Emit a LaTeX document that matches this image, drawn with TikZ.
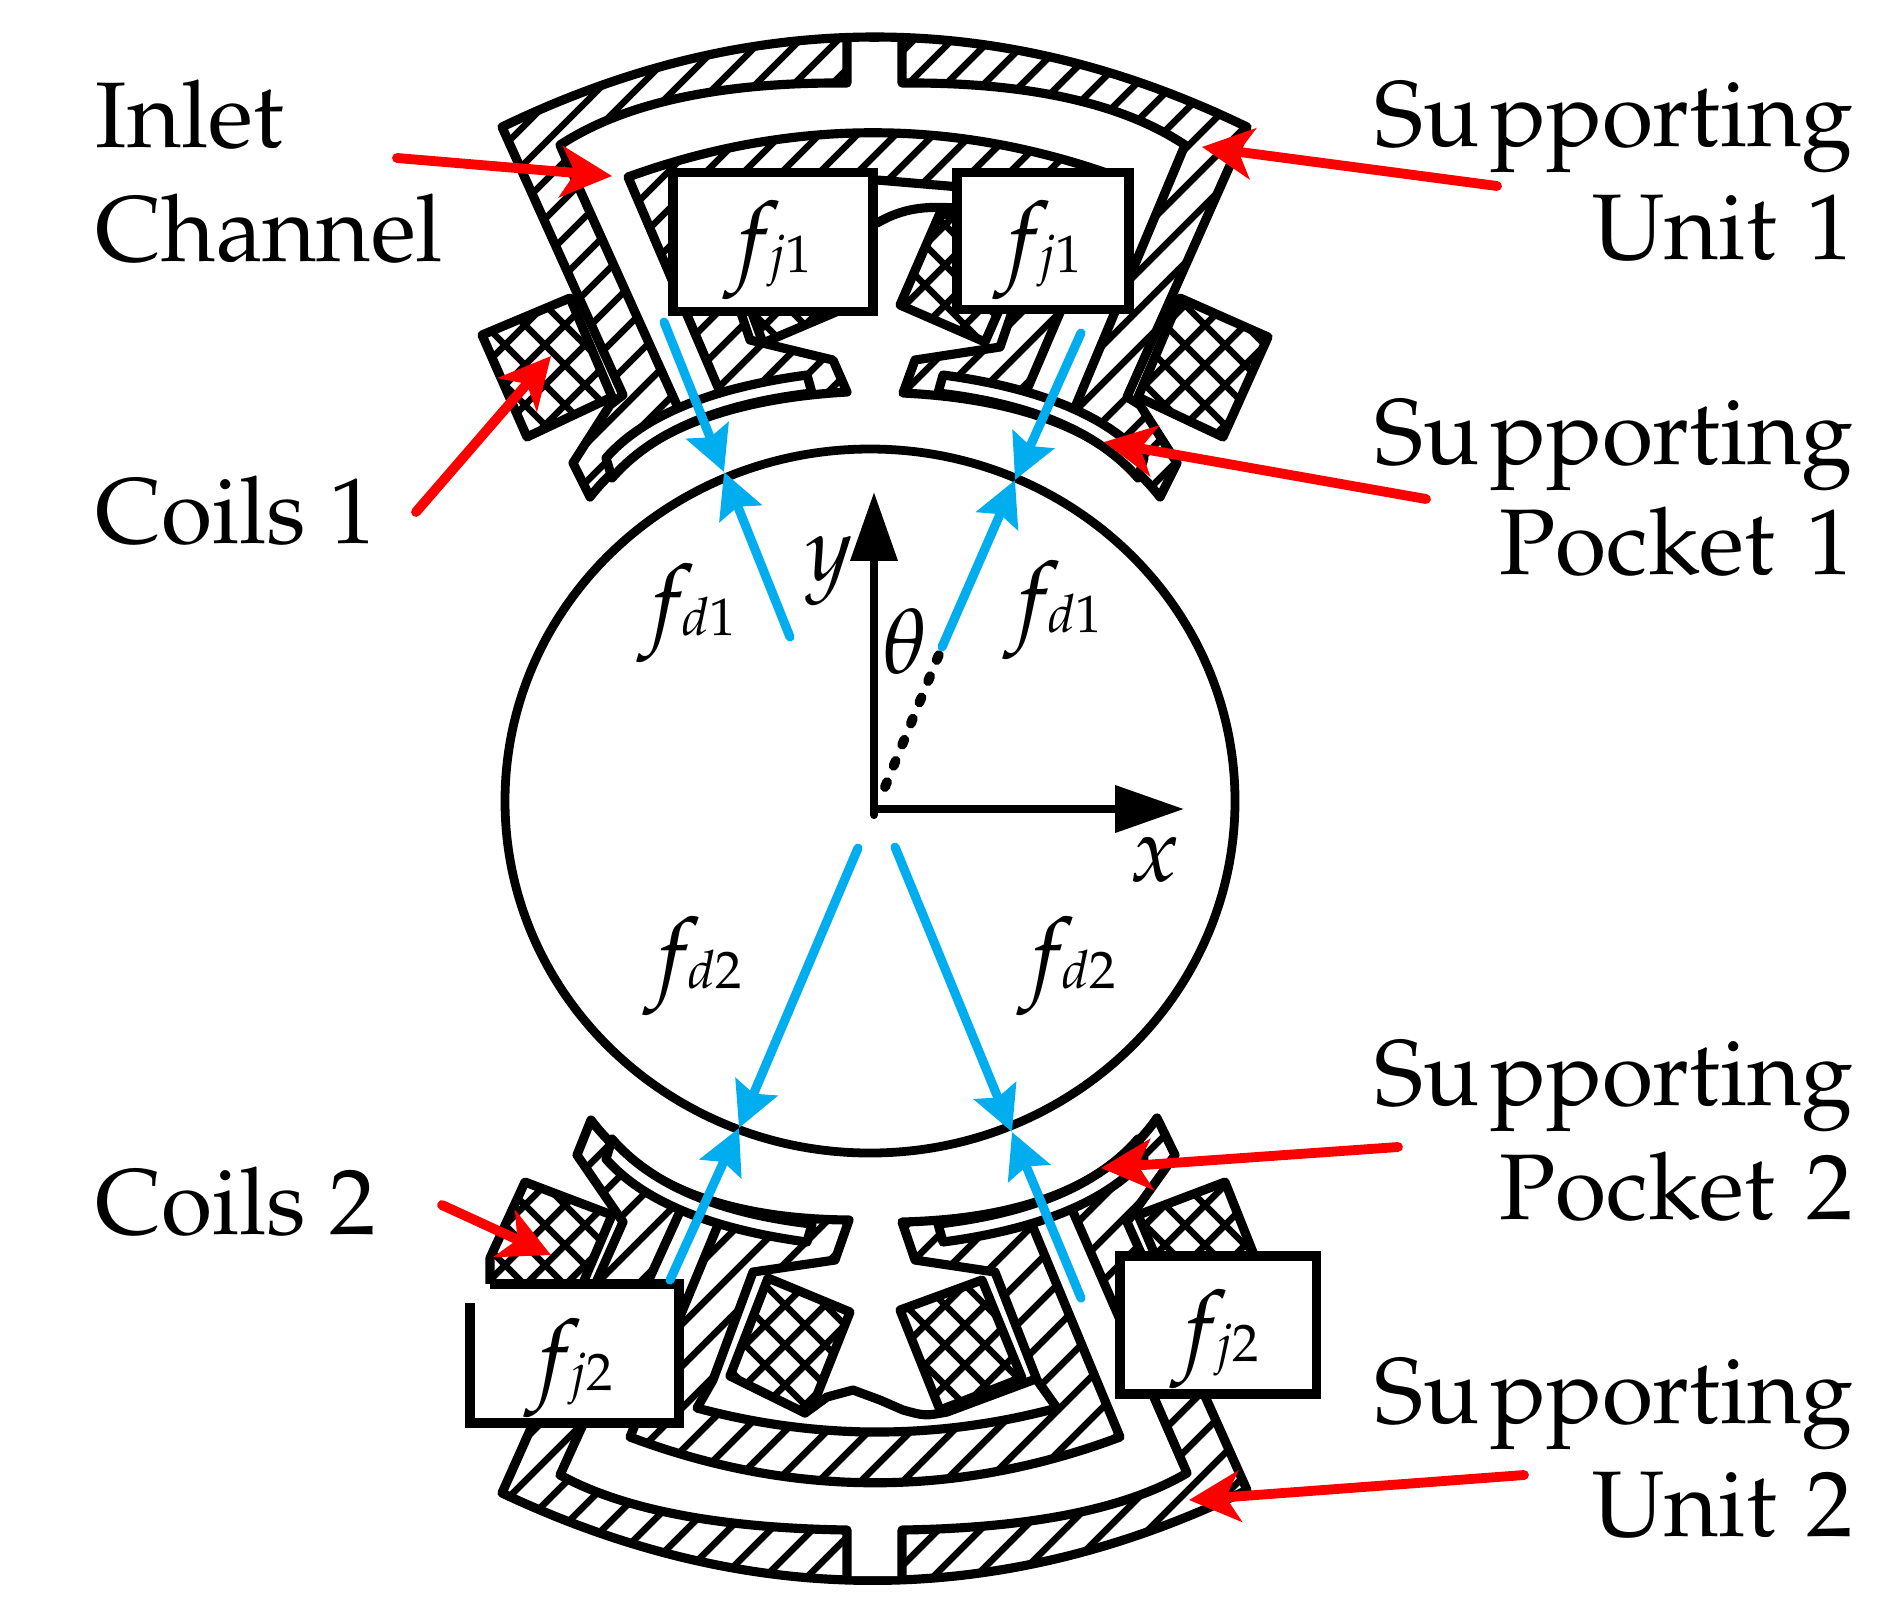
\documentclass[tikz,border=0pt]{standalone}
\usepackage[T1]{fontenc}
\usepackage{mathpazo}
\usepackage{amssymb,latexsym}
\usepackage{tikz}
\usetikzlibrary{arrows.meta}

\DeclareMathSizes{28}{28}{15}{11}

\definecolor{arrowred}{RGB}{255,0,0}
\definecolor{forceblue}{RGB}{0,174,239}

\tikzset{
  outline/.style={line width=2.6pt, line join=round, line cap=round},
  hatchline/.style={line width=1.9pt},
  redarrow/.style={draw=arrowred, line width=2.8pt, line cap=round, -{Stealth[length=14.5pt,width=14.5pt,inset=4pt]}},
  bluearrow/.style={draw=forceblue, line width=2.6pt, line cap=round, -{Stealth[length=12.6pt,width=12.7pt,inset=2pt]}},
  axisarrow/.style={line width=2.3pt, line cap=round, -{Triangle[length=19.6pt,width=13pt]}},
  forcebox/.style={draw, fill=white, line width=2.6pt, inner sep=0pt},
  textlabel/.style={font=\fontsize{26.5}{31.3}\selectfont, inner sep=0pt},
  flabel/.style={font=\fontsize{28}{32}\selectfont, inner sep=0pt},
  axislabel/.style={font=\fontsize{26}{30}\selectfont, inner sep=0pt}
}

\newcommand{\fforce}[1]{$f\kern-3.5pt{\scriptstyle #1}$}
\newcommand{\hatchtop}[1]{
  \begin{scope}
    \clip #1;
    \foreach \k in {-12,...,18} \draw[hatchline] ({992+38*\k},0) -- (0,{992+38*\k});
  \end{scope}
  \draw[outline] #1;
}
\newcommand{\hatchbottom}[1]{
  \begin{scope}
    \clip #1;
    \foreach \k in {-25,...,10} \draw[hatchline] ({2468+42*\k},0) -- (0,{2468+42*\k});
  \end{scope}
  \draw[outline] #1;
}
\newcommand{\coilblock}[1]{
  \fill[white] #1;
  \begin{scope}
    \clip #1;
    \foreach \k in {0,...,70} {
      \draw[hatchline] ({10+40*\k},0) -- (0,{10+40*\k});
      \draw[hatchline] (0,{-1600+40*\k}) -- (1894,{294+40*\k});
    }
  \end{scope}
  \draw[outline] #1;
}

\begin{document}
\begin{tikzpicture}[x=0.01cm, y=-0.01cm]
  \useasboundingbox (0,0) rectangle (1894,1611);

  \hatchtop{(502,127) .. controls (750,7) and (1000,7) .. (1247,127) -- (1127,397) -- (1140,405) -- (1177,463) -- (1160,497)
    .. controls (1111,434) and (1026,399) .. (903,393) -- (915,360) -- (1000,347) -- (1030,260) -- (1040,200) -- (960,187) -- (877,180)
    -- (790,187) -- (720,250) -- (750,340) -- (833,360) -- (847,392) .. controls (724,399) and (639,434) .. (590,497)
    -- (573,463) -- (610,405) -- (623,395) -- cycle}
  \draw[outline, fill=white] (902,42) -- (902,83) .. controls (1027,82) and (1122,103) .. (1185,145) -- (1073,412) -- (1026,392) -- (1118,177)
    .. controls (955,118) and (791,118) .. (628,177) -- (720,392) -- (680,412) -- (570,168) -- (560,145)
    .. controls (624,103) and (720,82) .. (847,83) -- (847,42);
  \coilblock{(482,335) -- (570,298) -- (612,397) -- (527,437) -- cycle}
  \coilblock{(1268,337) -- (1180,298) -- (1138,397) -- (1223,437) -- cycle}
  \coilblock{(810,213) -- (850,306) -- (763,343) -- (725,240) -- cycle}
  \coilblock{(940,213) -- (900,305) -- (985,342) -- (1030,240) -- cycle}
  \draw[outline] (877,223) .. controls (903,208) and (925,206) .. (955,208);
  \draw[outline, fill=white] (606,458) .. controls (643,416) and (710,388) .. (807,375) -- (812,393)
    .. controls (717,404) and (651,433) .. (612,478) -- cycle;
  \draw[outline, fill=white] (1144,458) .. controls (1107,416) and (1040,388) .. (943,375) -- (938,393)
    .. controls (1033,404) and (1099,433) .. (1138,478) -- cycle;

  \hatchbottom{(502,1493) .. controls (750,1610) and (1000,1610) .. (1247,1490) -- (1127,1222) -- (1175,1155) -- (1157,1118)
    .. controls (1110,1185) and (1025,1219) .. (902,1222) -- (915,1260) -- (995,1272) -- (1037,1380) -- (1057,1408)
    .. controls (937,1440) and (817,1440) .. (697,1408) -- (713,1380) -- (753,1272) -- (835,1260) -- (849,1220)
    .. controls (726,1219) and (640,1185) .. (591,1120) -- (577,1155) -- (623,1222) -- cycle}
  \draw[outline, fill=white] (902,1576) -- (902,1530) .. controls (1031,1528) and (1126,1509) .. (1187,1473) -- (1070,1205) -- (1030,1220) -- (1120,1437)
    .. controls (957,1498) and (793,1498) .. (630,1437) -- (720,1220) -- (682,1207) -- (560,1475)
    .. controls (624,1510) and (720,1528) .. (847,1530) -- (847,1576);
  \coilblock{(525,1182) -- (612,1215) -- (580,1290) -- (490,1290) -- (490,1258) -- cycle}
  \coilblock{(1225,1182) -- (1138,1215) -- (1170,1290) -- (1260,1270) -- cycle}
  \coilblock{(850,1312) -- (768,1278) -- (730,1376) -- (805,1413) -- (815,1400) -- cycle}
  \coilblock{(900,1310) -- (982,1280) -- (1022,1378) -- (940,1410) -- cycle}
  \draw[outline] (805,1413) -- (827,1397) -- (853,1390) -- (880,1400) -- (903,1410) .. controls (925,1416) .. (947,1412) -- (1033,1380);
  \draw[outline, fill=white] (606,1159) .. controls (643,1201) and (710,1229) .. (807,1242) -- (812,1224)
    .. controls (717,1213) and (651,1184) .. (612,1139) -- cycle;
  \draw[outline, fill=white] (1144,1159) .. controls (1107,1201) and (1040,1229) .. (943,1242) -- (938,1224)
    .. controls (1033,1213) and (1099,1184) .. (1138,1139) -- cycle;

  \draw[line width=2.5pt] (870,801) ellipse [x radius=365, y radius=352];

  \node[forcebox, minimum width=2cm, minimum height=1.39cm] (jboxa) at (773,242) {};
  \node[forcebox, minimum width=1.72cm, minimum height=1.37cm] (jboxb) at (1043,241) {};
  \fill[white] (470,1284) rectangle (679,1423);
  \draw[line width=2.6pt] (470,1303) -- (470,1423) -- (679,1423) -- (679,1284) -- (490,1284);
  \node[forcebox, minimum width=1.96cm, minimum height=1.38cm] (jboxd) at (1218,1325) {};

  \coordinate (origin) at (874,809);
  \coordinate (foot) at (874,815);
  \coordinate (xtip) at (1184,809);
  \coordinate (ytip) at (874,492);
  \coordinate (dotstart) at (885,787);
  \coordinate (thetaend) at (942,647);
  \draw[axisarrow] (origin) -- (xtip);
  \draw[axisarrow] (foot) -- (ytip);
  \draw[line width=2.8pt, line cap=round, dash pattern=on 1.5pt off 5pt] (dotstart) -- (thetaend);

  \coordinate (tipa) at (724,472);
  \coordinate (tipb) at (1015,480);
  \coordinate (tipc) at (739,1128);
  \coordinate (tipd) at (1012,1132);
  \coordinate (jstarta) at (664,322);
  \coordinate (jstartb) at (1081,333);
  \coordinate (jstartc) at (670,1280);
  \coordinate (jstartd) at (1081,1298);
  \coordinate (dstarta) at (790,637);
  \coordinate (dstartc) at (858,848);
  \coordinate (dstartd) at (895,847);
  \draw[bluearrow] (jstarta) -- (tipa);
  \draw[bluearrow] (jstartb) -- (tipb);
  \draw[bluearrow] (jstartc) -- (tipc);
  \draw[bluearrow] (jstartd) -- (tipd);
  \draw[bluearrow] (dstarta) -- (tipa);
  \draw[bluearrow] (thetaend) -- (tipb);
  \draw[bluearrow] (dstartc) -- (tipc);
  \draw[bluearrow] (dstartd) -- (tipd);

  \node[flabel] (fja) at (768,250) {\fforce{j1}};
  \node[flabel] (fjb) at (1038,250) {\fforce{j1}};
  \node[flabel] (fjc) at (569,1368) {\fforce{j2}};
  \node[flabel] (fjd) at (1215,1339) {\fforce{j2}};
  \node[flabel] (fda) at (687,613) {\fforce{d1}};
  \node[flabel] (fdb) at (1053,610) {\fforce{d1}};
  \node[flabel] (fdc) at (693,966) {\fforce{d2}};
  \node[flabel] (fdd) at (1067,966) {\fforce{d2}};
  \node[axislabel] (ylabel) at (829,571) {$y$};
  \node[axislabel] (xlabel) at (1155,860) {$x$};
  \node[axislabel] (thetalabel) at (905,641) {$\theta$};

  \node[textlabel, anchor=base west] (inlet) at (95,147) {Inlet};
  \node[textlabel, anchor=base west] (channel) at (95,261) {Channel};
  \node[textlabel, anchor=base west] (coilsa) at (95,543) {Coils 1};
  \node[textlabel, anchor=base west] (coilsb) at (95,1234) {Coils 2};
  \node[textlabel, anchor=base east] (unita) at (1854,146) {Su\kern3pt pporting};
  \node[textlabel, anchor=base east] (unitanum) at (1854,259) {Unit\kern2pt\ 1};
  \node[textlabel, anchor=base east] (pocketa) at (1854,464) {Su\kern3pt pporting};
  \node[textlabel, anchor=base east] (pocketanum) at (1854,574) {Pocket\kern2.4pt\ 1};
  \node[textlabel, anchor=base east] (pocketb) at (1854,1105) {Su\kern3pt pporting};
  \node[textlabel, anchor=base east] (pocketbnum) at (1854,1219) {Pocket\kern2.4pt\ 2};
  \node[textlabel, anchor=base east] (unitb) at (1854,1423) {Su\kern3pt pporting};
  \node[textlabel, anchor=base east] (unitbnum) at (1854,1536) {Unit\kern2pt\ 2};

  \coordinate (inletfrom) at (397,158);
  \coordinate (inletto) at (612,176);
  \coordinate (unitafrom) at (1497,186);
  \coordinate (unitato) at (1202,147);
  \coordinate (coilsafrom) at (416,512);
  \coordinate (coilsato) at (551,356);
  \coordinate (pocketafrom) at (1426,499);
  \coordinate (pocketato) at (1104,442);
  \coordinate (coilsbfrom) at (442,1205);
  \coordinate (coilsbto) at (551,1255);
  \coordinate (pocketbfrom) at (1398,1147);
  \coordinate (pocketbto) at (1101,1168);
  \coordinate (unitbfrom) at (1524,1475);
  \coordinate (unitbto) at (1189,1500);
  \draw[redarrow] (inletfrom) -- (inletto);
  \draw[redarrow] (unitafrom) -- (unitato);
  \draw[redarrow] (coilsafrom) -- (coilsato);
  \draw[redarrow] (pocketafrom) -- (pocketato);
  \draw[redarrow] (coilsbfrom) -- (coilsbto);
  \draw[redarrow] (pocketbfrom) -- (pocketbto);
  \draw[redarrow] (unitbfrom) -- (unitbto);
\end{tikzpicture}
\end{document}
